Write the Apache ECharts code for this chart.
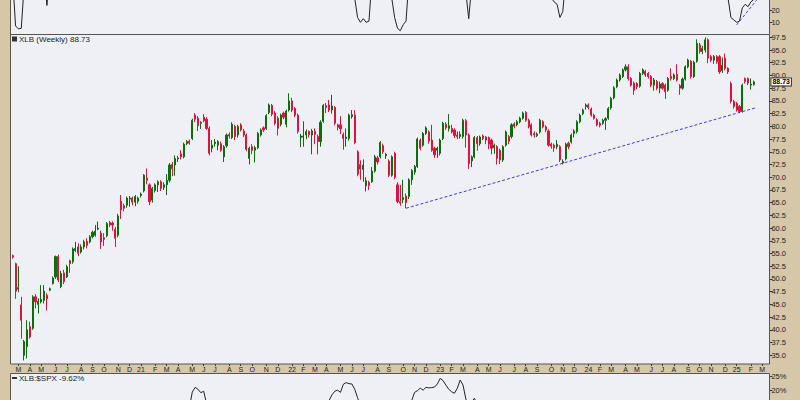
<!DOCTYPE html>
<html><head><meta charset="utf-8">
<script src="https://cdn.jsdelivr.net/npm/echarts@6/dist/echarts.min.js"></script>
<style>html,body{margin:0;padding:0;background:#d6c7a8}#c{width:800px;height:400px}</style>
</head><body><div id="c"></div>
<script>
// ---------- DATA ----------
const startDateUTC = Date.UTC(2020, 1, 21);   // first weekly bar (Friday)
const categoryCount = 266;                    // weekly slots on the x axis (incl. empty right margin)
const monthLetters = ['J','F','M','A','M','J','J','A','S','O','N','D'];
const priceTicks = [35,37.5,40,42.5,45,47.5,50,52.5,55,57.5,60,62.5,65,67.5,70,72.5,75,77.5,80,82.5,85,87.5,90,92.5,95,97.5];
const oscTicks = [10,20];
const relTicks = [20,25];

// weekly candles: [open, close, low, high]
const ohlc2020 = [
[54.6,54.3,54.0,54.8],[53.0,47.6,46.1,53.2],[48.0,48.3,47.4,52.5],[44.9,41.9,38.3,46.5],[35.0,37.7,34.0,38.0],
[36.7,40.0,34.4,41.9],[40.6,38.6,38.3,41.6],[40.3,46.5,40.0,46.8],[46.5,45.5,44.2,47.0],[45.0,45.6,43.2,46.2],
[45.5,46.0,45.2,48.8],[45.8,47.6,45.2,48.8],[46.8,46.1,43.8,47.2],[47.8,48.1,47.6,48.3],[49.1,50.2,48.9,50.5],
[50.4,54.4,50.0,54.6],[54.4,49.8,49.4,54.8],[48.5,51.1,48.2,51.6],[51.2,49.5,49.0,51.8],[50.4,52.4,50.2,52.8],
[53.6,53.0,51.2,53.8],[53.4,55.9,53.0,56.2],[55.6,56.0,55.3,57.3],[56.3,55.0,54.5,57.0],[55.3,56.3,55.0,56.8],
[56.3,57.3,55.8,57.7],[57.4,56.6,56.0,58.0],[57.3,58.3,57.0,58.6],[58.3,59.2,58.0,59.5],[58.6,59.4,58.3,60.6],
[59.8,60.0,59.6,61.3],[59.0,57.3,55.9,59.5],[58.1,57.8,56.5,59.0],[58.5,60.9,58.2,61.2],[61.1,60.6,60.2,61.4],
[61.0,60.6,59.5,61.3],[59.8,58.0,56.3,60.2],[58.6,62.4,58.2,62.8],[65.3,63.6,61.8,66.5],[64.4,63.9,63.3,64.8],
[64.5,65.9,64.0,66.2],[65.7,65.9,64.2,66.3],[65.9,65.1,64.5,66.2],[65.1,66.2,64.3,66.5],[65.3,65.9,64.8,66.2]
];
const ohlc2021 = [
[66.4,66.7,66.0,67.0],[67.3,70.4,67.0,70.6],[69.8,69.4,68.6,71.7],[68.5,65.2,64.5,68.8],[65.5,67.8,65.0,68.1],
[67.4,68.5,67.0,68.8],[68.5,69.1,67.1,69.4],[69.1,67.8,67.3,69.4],[68.0,68.5,67.5,69.0],[68.5,69.4,66.5,70.6],
[69.4,72.4,69.0,72.8],[72.5,71.7,70.2,73.0],[72.4,73.7,70.3,74.3],[73.6,73.8,73.0,74.2],[74.6,74.0,73.5,75.3],
[74.0,76.5,73.7,76.8],[76.6,77.0,76.3,77.3],[77.1,76.7,76.4,77.4],[77.6,81.2,77.3,81.5],[82.2,81.4,80.8,82.6],
[81.6,80.1,79.1,82.0],[80.6,80.8,79.5,81.0],[81.8,81.1,80.8,82.4],[81.4,79.6,79.3,81.8],[79.6,74.7,74.3,80.0],
[75.7,76.3,74.9,77.3],[76.6,76.9,76.0,77.5],[76.3,77.0,75.3,77.3],[76.6,75.3,75.0,77.0],[74.0,76.0,73.0,76.3],
[76.2,78.3,75.8,78.6],[78.4,78.1,77.6,78.8],[77.8,80.4,77.5,80.8],[80.0,78.0,77.3,80.3],[78.3,80.0,77.8,80.3],
[80.3,79.3,79.0,80.6],[79.1,78.3,77.9,79.5],[78.3,75.5,75.1,78.6],[73.7,75.7,72.5,76.0],[76.0,75.3,74.5,76.5],
[75.3,75.8,72.9,76.2],[75.8,78.6,75.5,78.9],[78.3,79.3,78.0,79.6],[79.7,79.3,78.9,80.0],[79.6,82.1,79.3,82.4],
[82.7,84.2,82.4,84.5],[84.1,82.4,82.0,84.4],[82.6,80.6,80.2,83.0],[81.6,79.6,78.2,82.0],[80.4,82.2,80.0,82.5],
[82.6,81.8,81.4,82.9],[80.4,83.0,79.8,83.3],[83.2,85.0,82.9,86.5]
];
const ohlc2022 = [
[85.0,83.2,82.8,85.6],[83.5,82.2,81.8,83.8],[82.2,79.0,78.6,82.5],[77.8,78.1,75.9,78.5],[77.9,78.1,76.0,81.0],
[78.3,79.0,77.5,79.4],[79.0,78.4,77.8,79.2],[78.3,79.1,74.5,79.5],[79.0,78.4,76.5,79.6],[78.0,77.0,74.5,78.4],
[77.0,80.8,76.0,81.2],[81.0,84.1,80.7,84.4],[84.1,83.7,82.6,84.6],[84.2,83.2,82.8,85.2],[83.2,84.0,82.5,86.2],
[83.7,80.6,80.2,84.0],[80.3,79.8,79.2,80.5],[80.3,79.5,78.5,82.0],[78.4,77.6,75.4,78.8],[77.6,77.9,76.0,79.6],
[77.6,82.2,77.2,82.5],[81.9,82.3,81.5,83.2],[82.2,76.8,76.5,83.2],[75.0,70.6,70.2,75.3],[72.5,71.6,69.5,73.3],
[71.5,72.4,69.1,73.5],[68.3,69.3,67.2,70.0],[69.0,68.4,67.5,69.3],[69.1,71.2,68.9,72.0],[71.2,74.0,70.9,74.4],
[73.8,73.0,72.5,74.2],[74.0,76.8,73.7,77.1],[76.2,75.0,74.6,76.6],[74.2,74.5,73.6,74.8],[73.2,70.4,70.0,73.5],
[70.4,74.0,70.1,74.3],[74.7,70.0,69.6,75.0],[68.5,65.2,64.9,69.0],[65.2,64.9,64.4,68.5],[65.6,66.0,64.9,69.5],
[66.3,65.0,63.9,66.8],[66.2,69.5,65.7,69.8],[69.5,71.3,68.5,71.6],[71.0,72.1,70.5,72.4],[72.1,77.5,71.8,77.8],
[77.3,75.7,75.3,77.6],[76.3,78.6,76.0,78.9],[78.6,79.7,78.3,80.0],[78.9,77.1,76.6,79.2],[77.3,75.3,75.0,80.3],
[75.7,74.4,73.8,76.0],[75.3,75.7,73.8,76.0]
];
const ohlc2023 = [
[74.7,77.3,74.3,77.6],[77.6,80.6,77.3,80.9],[80.4,79.7,79.3,80.8],[79.6,80.1,79.0,82.4],[79.6,78.9,78.6,80.3],
[79.3,78.2,77.7,79.6],[78.3,78.0,77.5,79.0],[78.0,78.4,77.6,79.0],[78.0,81.2,77.6,81.5],[81.1,78.3,75.8,81.4],
[78.3,72.7,71.6,78.6],[73.2,74.0,72.0,74.3],[74.0,77.8,73.7,78.1],[77.8,76.6,75.2,78.1],[76.6,77.9,76.2,78.2],
[78.1,77.6,77.3,78.4],[77.9,77.3,76.5,78.1],[77.8,76.5,75.5,78.0],[77.3,75.7,74.5,77.6],[75.8,76.3,74.6,76.6],
[76.0,73.7,72.5,76.3],[75.3,73.4,72.6,75.6],[73.4,76.0,73.0,76.3],[76.3,78.9,76.0,79.2],[78.0,77.1,76.5,78.3],
[78.0,80.3,77.6,80.6],[80.5,80.0,79.6,80.8],[80.3,80.9,80.0,81.2],[80.9,81.6,80.6,81.9],[81.6,82.6,81.3,82.9],
[82.7,81.2,80.9,83.0],[81.2,79.9,79.6,81.5],[80.3,78.3,78.0,80.6],[78.6,78.3,77.8,79.0],[78.2,78.5,77.9,78.8],
[78.9,81.2,78.6,81.5],[80.9,79.9,79.6,81.2],[79.9,79.3,78.9,80.2],[79.1,76.3,76.0,79.4],[76.5,76.1,75.6,76.8],
[76.3,75.8,75.0,76.6],[76.0,76.5,75.5,77.3],[76.0,73.4,73.0,76.3],[72.8,73.1,72.5,73.5],[73.6,76.5,73.3,76.8],
[76.7,76.0,75.5,77.0],[76.9,78.3,76.6,78.6],[78.6,79.1,77.8,79.4],[79.0,80.9,78.6,81.2],[80.9,82.2,80.6,82.5],
[82.5,83.2,82.2,83.5],[83.9,84.2,83.3,84.5]
];
const ohlc2024 = [
[84.2,83.7,83.3,84.5],[83.4,82.2,81.9,83.7],[82.2,81.6,81.3,82.5],[81.3,80.3,80.0,81.6],[80.6,80.2,79.8,80.9],
[80.6,81.2,80.3,81.5],[81.2,81.5,79.3,81.8],[81.6,83.5,81.3,83.8],[83.6,85.5,83.3,85.8],[85.6,87.6,85.3,87.9],
[87.8,89.1,87.5,89.4],[89.1,90.1,88.8,90.4],[89.8,91.1,89.5,91.4],[91.1,91.7,90.8,92.2],[91.7,89.4,89.0,92.2],
[89.4,88.1,87.8,89.7],[88.5,87.1,86.2,88.8],[88.4,87.8,87.3,88.7],[87.9,90.4,87.6,90.7],[90.4,91.1,90.1,91.4],
[90.8,90.1,89.7,91.1],[90.4,89.8,89.4,90.7],[89.8,88.1,87.7,90.1],[88.1,89.1,87.0,89.5],[88.8,87.5,87.1,89.1],
[87.5,88.3,86.5,88.8],[88.4,87.5,87.2,88.7],[88.1,86.8,85.4,88.4],[87.1,89.4,86.8,89.7],[89.8,89.4,89.0,91.4],
[89.4,90.1,89.1,90.4],[90.2,89.1,88.8,92.2],[88.0,87.5,86.2,88.3],[87.5,89.3,87.2,89.6],[89.3,91.7,89.0,92.0],
[91.7,93.0,91.4,93.3],[92.8,89.8,89.4,93.0],[89.8,92.6,89.5,92.9],[92.8,96.3,92.5,97.1],[96.0,94.7,94.3,96.4],
[94.7,95.3,94.2,95.8],[95.0,97.0,94.5,97.5],[97.0,93.4,92.4,97.3],[93.7,93.0,92.6,94.0],[93.0,93.7,92.3,94.0],
[93.7,92.7,92.3,94.0],[93.7,90.7,90.3,94.0],[91.0,92.0,90.5,93.5],[93.4,91.4,91.0,94.3],[91.4,90.7,90.3,91.6],
[88.4,84.9,84.5,88.8],[84.9,83.9,83.5,85.2]
];
const ohlc2025 = [
[84.5,83.2,82.9,84.8],[83.9,82.9,82.6,84.2],[82.9,88.1,82.7,88.4],[89.4,88.8,88.4,89.6],[89.4,88.5,88.1,89.6],
[88.1,88.3,87.2,89.4],[88.2,88.73,88.0,89.0]
];

// upper oscillator panel (only its lower part is in view): [week index, value]
const oscPoints = [[0,45],[1,7],[2,4.5],[3,5],[4,40],[8,60],[11,55],[12,24],[13,55],[30,70],[60,70],[90,70],
[118,60],[119,50],[120,30],[121,14],[122,10],[123,13],[124,10],[125,11],[126,45],[130,60],[132,45],[133,30],
[134,14],[135,5],[136,3],[137,8],[138,11],[139,45],[150,70],[157,60],[158,45],[159,35],[160,13],[161,40],
[175,70],[187,60],[188,45],[189,30],[190,27],[191,25],[192,14],[193,19],[194,45],[220,70],[249,60],[250,45],
[251,30],[252,14],[253,12],[254,10],[255,11],[256,22],[257,25],[258,23],[259,27],[260,29]];
const oscTrend = [[254,7.8],[261,28.5]];

// lower panel XLB:$SPX (%) — only its upper part is in view: [week index, value]
const relPoints = [[0,5],[40,12],[62,14],[63,19.5],[64,21.2],[65,20.5],[66,19.3],[67,19.8],[68,15.5],[80,12],
[110,14],[111,16.5],[112,18.5],[113,19.8],[114,20.2],[115,19.4],[116,22.3],[117,22.9],[118,22.5],[119,22.4],
[120,20.5],[121,17.5],[122,15],[130,14],[139,15],[140,16.5],[141,19.4],[142,20.0],[143,20.9],[144,20.2],
[145,21.2],[146,21.0],[147,21.1],[148,21.3],[149,22.4],[150,24.4],[151,23.6],[152,22.0],[153,20.5],[154,19.6],
[155,19.1],[156,20.9],[157,23.8],[158,22.0],[159,17.0],[160,15],[161,16],[162,17.3],[163,15],[200,0],[260,-9.62]];

// dashed support line on the price panel: [week index, price]
const priceTrend = [[138,63.9],[261,83.7]];

// ---------- BUILD ----------
const candles = [].concat(ohlc2020, ohlc2021, ohlc2022, ohlc2023, ohlc2024, ohlc2025);
const lastClose = candles[candles.length - 1][1];
const lastRel = relPoints[relPoints.length - 1][1];

const categories = [];
for (let i = 0; i < categoryCount; i++) {
  categories.push(new Date(startDateUTC + i * 7 * 86400000).toISOString().slice(0, 10));
}
function isMonthStart(i) { return i > 0 && categories[i].slice(5, 7) !== categories[i - 1].slice(5, 7); }
function monthLabel(v) { const m = +v.slice(5, 7); return m === 1 ? v.slice(2, 4) : monthLetters[m - 1]; }

const BAND = 2.85;
const GL = 11.3;
const GR = 800 - (GL + categoryCount * BAND);
const FONT = 'Liberation Sans';
const PANEL_BG = '#eff0f6';
const BORDER = '#555';
const TXT = '#222';

function xAx(gi, main) {
  return {
    type: 'category', gridIndex: gi, data: categories, boundaryGap: true,
    axisLine: { show: false },
    axisTick: main ? { show: true, alignWithLabel: true, interval: (i) => isMonthStart(i), length: 2, lineStyle: { color: '#333' } } : { show: false },
    axisLabel: main ? { show: true, interval: (i) => isMonthStart(i), formatter: (v) => monthLabel(v), fontSize: 7, color: TXT, margin: 2, fontFamily: FONT, hideOverlap: false } : { show: false },
    splitLine: { show: false }
  };
}
function yAx(gi, min, max, ticks, fmt) {
  return {
    type: 'value', gridIndex: gi, min: min, max: max, position: 'right',
    axisLine: { show: false }, splitLine: { show: false },
    axisTick: { show: true, length: 3, inside: false, customValues: ticks, lineStyle: { color: '#333' } },
    axisLabel: { show: true, customValues: ticks, formatter: fmt, fontSize: 7.5, color: TXT, margin: 2, fontFamily: FONT }
  };
}

const option = {
  animation: false,
  backgroundColor: '#d6c7a8',
  textStyle: { fontFamily: FONT },
  grid: [
    { left: GL, right: GR, top: 0, height: 34.3 },
    { left: GL, right: GR, top: 34, height: 330 },
    { left: GL, right: GR, top: 373, height: 27 }
  ],
  xAxis: [xAx(0, false), xAx(1, true), xAx(2, false)],
  yAxis: [
    yAx(0, 0, 28.58, oscTicks, (v) => String(v)),
    yAx(1, 33.29, 98.15, priceTicks, (v) => v.toFixed(1)),
    yAx(2, 16.68, 26.32, relTicks, (v) => v + '%')
  ],
  graphic: [
    { type: 'rect', z: -5, shape: { x: 10, y: -2, width: 760, height: 36 }, style: { fill: PANEL_BG } },
    { type: 'rect', z: -5, shape: { x: 10, y: 34, width: 760, height: 330 }, style: { fill: PANEL_BG } },
    { type: 'rect', z: -5, shape: { x: 10, y: 373, width: 760, height: 30 }, style: { fill: PANEL_BG } },
    { type: 'rect', z: 50, shape: { x: 10.5, y: -2, width: 759, height: 36.5 }, style: { fill: 'none', stroke: BORDER, lineWidth: 1 } },
    { type: 'rect', z: 50, shape: { x: 10.5, y: 34.5, width: 759, height: 329.5 }, style: { fill: 'none', stroke: BORDER, lineWidth: 1 } },
    { type: 'rect', z: 50, shape: { x: 10.5, y: 373.5, width: 759, height: 30 }, style: { fill: 'none', stroke: BORDER, lineWidth: 1 } },
    { type: 'rect', z: 51, shape: { x: 12, y: 36.5, width: 5, height: 5 }, style: { fill: '#333' } },
    { type: 'text', z: 51, left: 19, top: 35, style: { text: 'XLB (Weekly) ' + lastClose.toFixed(2), fontSize: 8, fill: TXT, font: '8px ' + FONT } },
    { type: 'rect', z: 51, shape: { x: 12, y: 377, width: 5, height: 2 }, style: { fill: '#333' } },
    { type: 'text', z: 51, left: 19, top: 374, style: { text: 'XLB:$SPX ' + lastRel.toFixed(2) + '%', fontSize: 8, fill: TXT, font: '8px ' + FONT } }
  ],
  series: [
    {
      type: 'line', xAxisIndex: 0, yAxisIndex: 0, data: oscPoints, symbol: 'none', clip: true,
      lineStyle: { color: '#222', width: 1 },
      markLine: {
        silent: true, symbol: ['none', 'none'], animation: false,
        lineStyle: { color: '#3a3aff', type: [3, 2], width: 1 }, label: { show: false },
        data: [[{ coord: oscTrend[0] }, { coord: oscTrend[1] }]]
      }
    },
    {
      type: 'candlestick', xAxisIndex: 1, yAxisIndex: 1, data: candles, barWidth: 1.6,
      itemStyle: { color: '#0b6e0b', color0: '#dc143c', borderColor: '#0b6e0b', borderColor0: '#dc143c', borderWidth: 1 },
      markLine: {
        silent: true, symbol: ['none', 'none'], animation: false,
        data: [
          [{ coord: priceTrend[0], lineStyle: { color: '#3a3aff', type: [3, 2], width: 1 }, label: { show: false } },
           { coord: priceTrend[1] }],
          { yAxis: lastClose, lineStyle: { color: 'rgba(0,0,0,0)', width: 0 },
            label: { show: true, position: 'end', distance: 2, formatter: lastClose.toFixed(2), backgroundColor: '#fff',
                     borderColor: '#333', borderWidth: 1, padding: [0, 1, 0, 1], lineHeight: 7, fontSize: 7, fontWeight: 'bold', color: '#000', fontFamily: FONT } }
        ]
      }
    },
    {
      type: 'line', xAxisIndex: 2, yAxisIndex: 2, data: relPoints, symbol: 'none', clip: true,
      lineStyle: { color: '#222', width: 1 }
    }
  ]
};
const chart = echarts.init(document.getElementById('c'), null, { renderer: 'svg', width: 800, height: 400 });
chart.setOption(option);
</script>
</body></html>
